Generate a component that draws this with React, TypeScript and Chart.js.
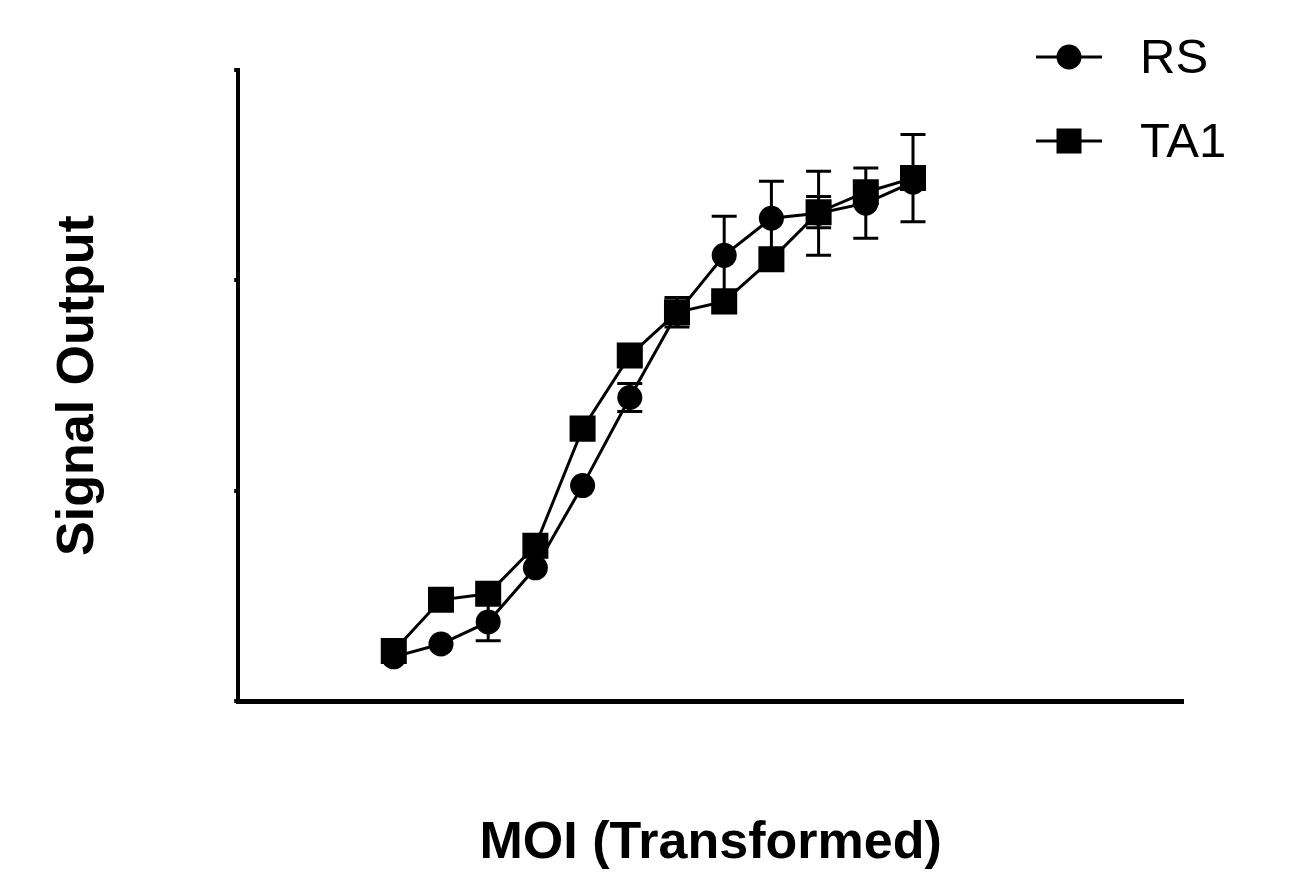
import React, { useEffect, useRef } from "react";
import { Chart, registerables } from "chart.js";

Chart.register(...registerables);

// ---- Data ----
const xLevels = [1, 2, 3, 4, 5, 6, 7, 8, 9, 10, 11, 12];
const rsValues = [0.21, 0.271, 0.376, 0.633, 1.024, 1.443, 1.843, 2.119, 2.295, 2.319, 2.367, 2.467];
const rsErrors = [0, 0, 0.09, 0, 0, 0.067, 0, 0.186, 0.176, 0.2, 0.167, 0];
const ta1Values = [0.238, 0.481, 0.51, 0.738, 1.295, 1.643, 1.848, 1.9, 2.1, 2.324, 2.419, 2.486];
const ta1Errors = [0, 0, 0, 0, 0, 0, 0.07, 0, 0, 0.074, 0, 0.207];
const seriesNames = ["RS", "TA1"];
const yTickValues = [0, 1, 2, 3];
const xTitle = "MOI (Transformed)";
const yTitle = "Signal Output";

const FONT = "'Liberation Sans', Arial, Helvetica, sans-serif";

const errorSets = [rsErrors, ta1Errors];

const errorBarPlugin = {
  id: "errorBars",
  beforeDatasetsDraw(chart: any) {
    const { ctx, scales } = chart;
    const xs = scales.x;
    const ys = scales.y;
    ctx.save();
    ctx.strokeStyle = "#000";
    ctx.lineWidth = 3;
    chart.data.datasets.forEach((ds: any, i: number) => {
      const errs = errorSets[i];
      ds.data.forEach((pt: any, j: number) => {
        const e = errs[j];
        if (!e) return;
        const px = xs.getPixelForValue(pt.x);
        const top = ys.getPixelForValue(pt.y + e);
        const bot = ys.getPixelForValue(pt.y - e);
        const cap = 12.5;
        ctx.beginPath();
        ctx.moveTo(px, top);
        ctx.lineTo(px, bot);
        ctx.moveTo(px - cap, top);
        ctx.lineTo(px + cap, top);
        ctx.moveTo(px - cap, bot);
        ctx.lineTo(px + cap, bot);
        ctx.stroke();
      });
    });
    ctx.restore();
  },
};

const legendPlugin = {
  id: "customLegend",
  afterDraw(chart: any) {
    const { ctx } = chart;
    const rows = [
      { name: seriesNames[0], style: "circle", y: 57 },
      { name: seriesNames[1], style: "rect", y: 141 },
    ];
    ctx.save();
    rows.forEach((r) => {
      ctx.strokeStyle = "#000";
      ctx.fillStyle = "#000";
      ctx.lineWidth = 3;
      ctx.beginPath();
      ctx.moveTo(1036, r.y);
      ctx.lineTo(1102, r.y);
      ctx.stroke();
      ctx.beginPath();
      if (r.style === "circle") {
        ctx.arc(1069, r.y, 12.5, 0, Math.PI * 2);
      } else {
        ctx.rect(1069 - 12.5, r.y - 12.5, 25, 25);
      }
      ctx.fill();
      ctx.font = `49px ${FONT}`;
      ctx.textBaseline = "middle";
      ctx.textAlign = "left";
      ctx.fillText(r.name, 1140, r.y + 2);
    });
    ctx.restore();
  },
};

export default function App() {
  const canvasRef = useRef<HTMLCanvasElement | null>(null);

  useEffect(() => {
    if (!canvasRef.current) return;
    const chart = new Chart(canvasRef.current, {
      type: "line",
      data: {
        datasets: [
          {
            label: seriesNames[0],
            data: xLevels.map((x, i) => ({ x, y: rsValues[i] })),
            borderColor: "#000",
            backgroundColor: "#000",
            borderWidth: 3,
            pointStyle: "circle",
            pointRadius: 12.5,
            pointBorderWidth: 0,
            pointHoverRadius: 12.5,
            tension: 0,
          },
          {
            label: seriesNames[1],
            data: xLevels.map((x, i) => ({ x, y: ta1Values[i] })),
            borderColor: "#000",
            backgroundColor: "#000",
            borderWidth: 3,
            pointStyle: "rect",
            pointRadius: 18.4,
            pointBorderWidth: 0,
            pointHoverRadius: 18.4,
            tension: 0,
          },
        ],
      },
      options: {
        animation: false,
        responsive: true,
        maintainAspectRatio: false,
        events: [],
        layout: { padding: { left: 0, top: 70, right: 108, bottom: 0 } },
        plugins: {
          legend: { display: false },
          tooltip: { enabled: false },
        },
        scales: {
          x: {
            type: "linear",
            min: -2.296,
            max: 17.72,
            ticks: { display: false },
            grid: { display: false },
            border: { display: true, color: "#000", width: 5 },
            title: {
              display: true,
              text: xTitle,
              color: "#000",
              font: { family: FONT, size: 52, weight: "bold" },
              padding: { top: 103.6, bottom: -2 },
            },
          },
          y: {
            type: "linear",
            min: yTickValues[0],
            max: yTickValues[yTickValues.length - 1],
            afterBuildTicks: (scale: any) => {
              scale.ticks = yTickValues.map((v) => ({ value: v }));
            },
            ticks: { display: false },
            grid: {
              display: true,
              drawOnChartArea: false,
              drawTicks: true,
              tickLength: 4,
              color: "#000",
              lineWidth: 4,
            },
            border: { display: true, color: "#000", width: 4 },
            title: {
              display: true,
              text: yTitle,
              color: "#000",
              font: { family: FONT, size: 52, weight: "bold" },
              padding: { top: 47.4, bottom: 124.4 },
            },
          },
        },
      },
      plugins: [errorBarPlugin, legendPlugin],
    });
    return () => chart.destroy();
  }, []);

  return (
    <div style={{ position: "fixed", left: 0, top: 0, width: 1291, height: 873, background: "#fff" }}>
      <canvas ref={canvasRef} />
    </div>
  );
}
